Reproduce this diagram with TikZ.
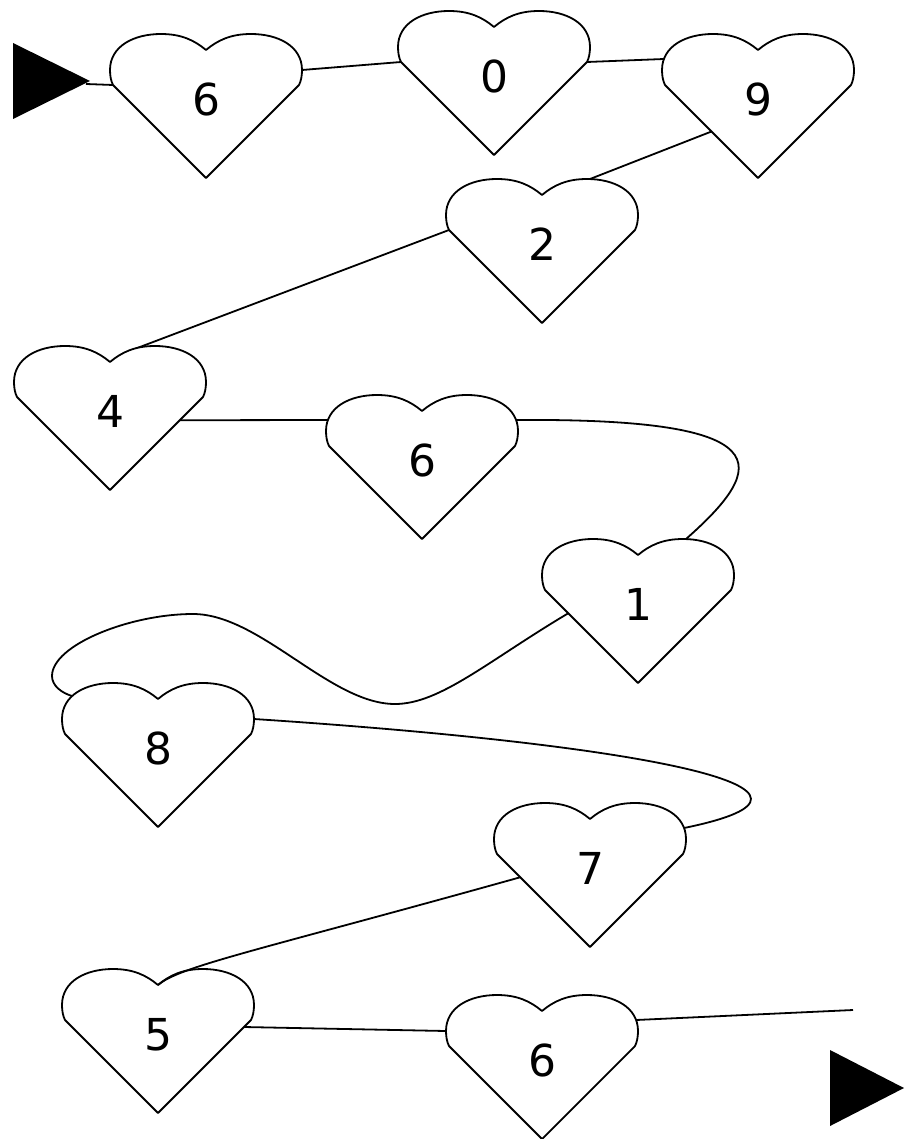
\documentclass[tikz,border=0pt]{standalone}
\usepackage{fontspec}
\setmainfont{DejaVu Sans}
\pgfdeclarelayer{connectors}
\pgfsetlayers{connectors,main}
\makeatletter
% point given as offset from the top-centre of the heart box (x right, y down), in pt
\def\heartpt#1#2{\pgfpointadd{\pgfpointscale{.5}{\pgfpointadd{\southwest}{\northeast}}}{\pgfpoint{#1pt}{72pt-#2pt}}}
\pgfdeclareshape{heart}{
  \inheritsavedanchors[from=rectangle]
  \inheritanchorborder[from=rectangle]
  \inheritanchor[from=rectangle]{center}
  \inheritanchor[from=rectangle]{north}
  \inheritanchor[from=rectangle]{south}
  \inheritanchor[from=rectangle]{east}
  \inheritanchor[from=rectangle]{west}
  \anchor{notch}{\heartpt{0}{16}}
  \anchor{tip}{\heartpt{0}{144}}
  \anchor{tl}{\heartpt{-48}{0}}
  \anchor{tr}{\heartpt{48}{0}}
  \anchor{nl}{\heartpt{-22}{4}}
  \anchor{nr}{\heartpt{22}{4}}
  \anchor{nw}{\heartpt{-86}{13}}
  \anchor{ne}{\heartpt{86}{13}}
  \anchor{wu}{\heartpt{-94}{25}}
  \anchor{eu}{\heartpt{94}{25}}
  \anchor{w}{\heartpt{-96}{36}}
  \anchor{e}{\heartpt{96}{36}}
  \anchor{wl}{\heartpt{-93}{51}}
  \anchor{el}{\heartpt{93}{51}}
  \anchor{sw0}{\heartpt{-86}{58}}
  \anchor{se0}{\heartpt{86}{58}}
  \anchor{sw1}{\heartpt{-69.75}{74.25}}
  \anchor{sw2}{\heartpt{-46.5}{97.5}}
  \anchor{sw3}{\heartpt{-23.25}{120.75}}
  \anchor{se1}{\heartpt{69.75}{74.25}}
  \anchor{se2}{\heartpt{46.5}{97.5}}
  \anchor{se3}{\heartpt{23.25}{120.75}}
  \backgroundpath{
    \pgfpathmoveto{\heartpt{0}{144}}
    \pgfpathlineto{\heartpt{-93}{51}}
    \pgfpathcurveto{\heartpt{-95}{47}}{\heartpt{-96}{42}}{\heartpt{-96}{36}}
    \pgfpathcurveto{\heartpt{-96}{12}}{\heartpt{-72}{0}}{\heartpt{-45}{0}}
    \pgfpathcurveto{\heartpt{-25}{0}}{\heartpt{-12}{6}}{\heartpt{0}{16}}
    \pgfpathcurveto{\heartpt{12}{6}}{\heartpt{25}{0}}{\heartpt{45}{0}}
    \pgfpathcurveto{\heartpt{72}{0}}{\heartpt{96}{12}}{\heartpt{96}{36}}
    \pgfpathcurveto{\heartpt{96}{42}}{\heartpt{95}{47}}{\heartpt{93}{51}}
    \pgfpathclose
  }
}
\makeatother
\tikzset{
  heartnode/.style={shape=heart, draw, line width=1.8pt, fill=white,
    minimum width=192pt, minimum height=144pt, inner sep=0pt,
    text depth=14pt, font=\fontsize{44}{44}\selectfont},
  link/.style={line width=1.8pt},
  marker/.style={fill=black},
}
\begin{document}
\begin{tikzpicture}[x=1pt,y=-1pt,line join=round]
\useasboundingbox (0,0) rectangle (904,1139);
% hearts
\node[heartnode] (h6a) at (206,106) {6};
\node[heartnode] (h0)  at (494,83)  {0};
\node[heartnode] (h9)  at (758,106) {9};
\node[heartnode] (h2)  at (542,251) {2};
\node[heartnode] (h4)  at (110,418) {4};
\node[heartnode] (h6b) at (422,467) {6};
\node[heartnode] (h1)  at (638,611) {1};
\node[heartnode] (h8)  at (158,755) {8};
\node[heartnode] (h7)  at (590,875) {7};
\node[heartnode] (h5)  at (158,1041) {5};
\node[heartnode] (h6c) at (542,1067) {6};
% start and end markers
\fill[marker] (13,43) -- (90,81) -- (13,119) -- cycle;
\coordinate (in) at (86,84);
\fill[marker] (830,1050) -- (904,1088) -- (830,1126) -- cycle;
\coordinate (out) at (853,1010);
% connectors (behind the hearts)
\begin{pgfonlayer}{connectors}
\draw[link] (in) -- (h6a.wl);
\draw[link] (h6a.e) -- (h0.wl);
\draw[link] (h0.el) -- (h9.wu);
\draw[link] (h9.sw2) -- (h2.tr);
\draw[link] (h2.wl) -- (h4.nr);
\draw[link] (h4.se1) -- (h6b.wu);
\draw[link] (h6b.eu) .. controls (780,418) and (770,465) .. (h1.tr);
\draw[link] (h1.sw1) .. controls (488,661) and (440,704) .. (395,704)
  .. controls (330,704) and (260,614) .. (193,614)
  .. controls (130,614) and (52,645) .. (52,676)
  .. controls (52,686) and (62,693) .. (h8.nw);
\draw[link] (h8.e) .. controls (650,745) and (870,790) .. (h7.eu);
\draw[link] (h5.se0) -- (h6c.w);
\draw[link] (h6c.eu) -- (out);
\end{pgfonlayer}
% this one runs over the lobe of heart 5 into its notch
\draw[link] (h7.sw1) .. controls (260,950) and (180,966) .. (h5.notch);
\end{tikzpicture}
\end{document}
